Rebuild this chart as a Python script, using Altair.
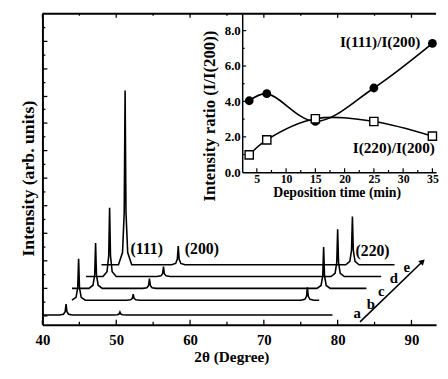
import altair as alt
import pandas as pd

# ---------------- main XRD patterns ----------------
curve_names = ["a", "b", "c", "d", "e"]
curve_start = [40.0, 44.0, 44.0, 45.9, 48.0]
curve_end = [79.3, 77.5, 83.9, 85.9, 87.7]
curve_base = [10, 25, 37, 49, 61]
peak_pos = [[43.2, 50.5], [44.9, 52.3, 75.9], [47.2, 54.5, 78.1],
            [49.1, 56.4, 80.0], [51.2, 58.4, 82.0]]
peak_top = [[21, 13], [67, 31, 38], [83, 47, 79], [119, 59, 97], [238, 80, 110]]
# peak outline: offset (deg) and fraction of peak height
profile_dx = [-0.9, -0.35, -0.12, 0.0, 0.12, 0.35, 0.9]
profile_f = [0.0, 0.07, 0.3, 1.0, 0.3, 0.07, 0.0]

rows = []
for k, name in enumerate(curve_names):
    pts = [(curve_start[k], curve_base[k]), (curve_end[k], curve_base[k])]
    for p, top in zip(peak_pos[k], peak_top[k]):
        for dx, f in zip(profile_dx, profile_f):
            x = p + dx
            if curve_start[k] <= x <= curve_end[k]:
                pts.append((x, curve_base[k] + f * (top - curve_base[k])))
    pts.sort()
    for i, (x, y) in enumerate(pts):
        rows.append({"curve": name, "i": i, "x": x, "y": y})
xrd = pd.DataFrame(rows)

x_major = [40, 50, 60, 70, 80, 90]
x_minor = [45, 55, 65, 75, 85]
y_major = [9, 37, 65, 93, 121, 149, 177, 205, 232, 260, 288]
y_minor = [23, 51, 79, 107, 135, 163, 191, 219, 246, 274, 302]

peak_labels = ["(111)", "(200)", "(220)"]
peak_label_x = [54.13, 61.6, 84.73]
peak_label_y = [77, 77, 75.3]
series_label_x = [82.63, 84.49, 85.91, 87.6, 89.37]
series_label_y = [12, 21, 34.3, 47.7, 58.7]
arrow_x = [83.03, 91.51]
arrow_y = [3, 64.3]

# ---------------- inset ----------------
dep_time = [3.7, 6.7, 15, 25, 35]
ratio_111 = [4.04, 4.44, 2.87, 4.76, 7.28]
ratio_220 = [0.98, 1.83, 3.02, 2.87, 2.04]
inset_x_ticks = [5, 10, 15, 20, 25, 30, 35]
inset_x_minor = [7.5, 12.5, 17.5, 22.5, 27.5, 32.5]
inset_y_ticks = [0, 2, 4, 6, 8]
inset_y_minor = [1, 3, 5, 7]
inset_labels = ["I(111)/I(200)", "I(220)/I(200)"]
inset_label_x = [26.07, 28.4]
inset_label_y = [7.33, 1.39]

FONT = "Liberation Serif"
W, H = 400, 316
XDOM = [40, 40 + W / 7.5]
YDOM = [0, 316]
IX_LEFT = 203
IX_DOM = [2.5, 2.5 + (W - IX_LEFT) / 5.947]


def xs():
    return alt.Scale(domain=XDOM, nice=False, zero=False)


def ys():
    return alt.Scale(domain=YDOM, nice=False, zero=False)


def ixs():
    return alt.Scale(domain=IX_DOM, range=[IX_LEFT, W], nice=False, zero=False)


def iys():
    return alt.Scale(domain=[0, 8.95], range=[161, 0], nice=False, zero=False)


curves = alt.Chart(xrd).mark_line(color="black", strokeWidth=1.6).encode(
    x=alt.X("x:Q", scale=xs(), axis=alt.Axis(
        orient="bottom", values=x_major, ticks=False, grid=False, labelFlush=False,
        labelPadding=8, labelFontSize=15, labelFont=FONT, labelFontWeight="bold",
        labelColor="black", domainColor="black", domainWidth=2,
        title="2θ (Degree)", titleFont=FONT, titleFontSize=15.5, titleFontWeight="bold",
        titleColor="black", titlePadding=2, titleX=192)),
    y=alt.Y("y:Q", scale=ys(), axis=alt.Axis(
        orient="left", labels=False, ticks=False, grid=False, domainColor="black",
        domainWidth=2, title="Intensity (arb. units)", titleFont=FONT, titleFontSize=18,
        titleFontWeight="bold", titleColor="black", titlePadding=5, titleY=167)),
    detail="curve:N",
    order="i:Q",
)

tk = pd.DataFrame(
    [{"x": v, "y": 0, "y2": 5} for v in x_major]
    + [{"x": v, "y": 0, "y2": 3} for v in x_minor]
    + [{"x": v, "y": 316, "y2": 312} for v in x_major]
    + [{"x": v, "y": 316, "y2": 314} for v in x_minor]
)
xticks = alt.Chart(tk).mark_rule(color="black", strokeWidth=1.3).encode(
    x=alt.X("x:Q", scale=xs(), axis=None), y=alt.Y("y:Q", scale=ys(), axis=None), y2="y2:Q")

tky = pd.DataFrame(
    [{"y": v, "x": 40, "x2": 40.67} for v in y_major]
    + [{"y": v, "x": 40, "x2": 40.4} for v in y_minor]
)
yticks = alt.Chart(tky).mark_rule(color="black", strokeWidth=1.3).encode(
    x=alt.X("x:Q", scale=xs(), axis=None), x2="x2:Q", y=alt.Y("y:Q", scale=ys(), axis=None))

topb = alt.Chart(pd.DataFrame({"x": [XDOM[0]], "x2": [XDOM[1]], "y": [YDOM[1]]})).mark_rule(
    color="black", strokeWidth=2).encode(
    x=alt.X("x:Q", scale=xs(), axis=None), x2="x2:Q", y=alt.Y("y:Q", scale=ys(), axis=None))

plab = alt.Chart(pd.DataFrame({"t": peak_labels, "x": peak_label_x, "y": peak_label_y})).mark_text(
    font=FONT, fontSize=16, fontWeight="bold", color="black").encode(
    x=alt.X("x:Q", scale=xs(), axis=None), y=alt.Y("y:Q", scale=ys(), axis=None), text="t:N")

slab = alt.Chart(pd.DataFrame({"t": curve_names, "x": series_label_x, "y": series_label_y})).mark_text(
    font=FONT, fontSize=15, fontWeight="bold", color="black").encode(
    x=alt.X("x:Q", scale=xs(), axis=None), y=alt.Y("y:Q", scale=ys(), axis=None), text="t:N")

arr = alt.Chart(pd.DataFrame({"x": [arrow_x[0]], "x2": [arrow_x[1]], "y": [arrow_y[0]], "y2": [arrow_y[1]]})).mark_rule(
    color="black", strokeWidth=1.6).encode(
    x=alt.X("x:Q", scale=xs(), axis=None), x2="x2:Q", y=alt.Y("y:Q", scale=ys(), axis=None), y2="y2:Q")
head = alt.Chart(pd.DataFrame({"x": [arrow_x[1]], "y": [arrow_y[1]]})).mark_point(
    shape="triangle-up", filled=True, color="black", size=45, angle=46, opacity=1).encode(
    x=alt.X("x:Q", scale=xs(), axis=None), y=alt.Y("y:Q", scale=ys(), axis=None))

idf = pd.DataFrame({"t": dep_time, "r111": ratio_111, "r220": ratio_220})

l111 = alt.Chart(idf).mark_line(color="black", strokeWidth=1.6, interpolate="catmull-rom").encode(
    x=alt.X("t:Q", scale=ixs(), axis=alt.Axis(
        orient="bottom", offset=-155, values=inset_x_ticks, ticks=False, grid=False,
        labelFlush=False, labelPadding=1, labelFontSize=12, labelFont=FONT,
        labelFontWeight="bold", labelColor="black", domainColor="black", domainWidth=1.5,
        title="Deposition time (min)", titleFont=FONT, titleFontSize=14,
        titleFontWeight="bold", titleColor="black", titlePadding=2, titleX=299)),
    y=alt.Y("r111:Q", scale=iys(), axis=alt.Axis(
        orient="left", offset=-IX_LEFT, values=inset_y_ticks, format=".1f", ticks=False,
        grid=False, labelPadding=2, labelFontSize=13, labelFont=FONT,
        labelFontWeight="bold", labelColor="black", domainColor="black", domainWidth=1.5,
        title="Intensity ratio (I/I(200))", titleFont=FONT, titleFontSize=17,
        titleFontWeight="bold", titleColor="black", titlePadding=6, titleY=103.5)),
)
l220 = alt.Chart(idf).mark_line(color="black", strokeWidth=1.6, interpolate="catmull-rom").encode(
    x=alt.X("t:Q", scale=ixs(), axis=None), y=alt.Y("r220:Q", scale=iys(), axis=None))
p111 = alt.Chart(idf).mark_point(shape="circle", filled=True, color="black", size=80, opacity=1).encode(
    x=alt.X("t:Q", scale=ixs(), axis=None), y=alt.Y("r111:Q", scale=iys(), axis=None))
p220 = alt.Chart(idf).mark_point(shape="square", filled=True, fill="white", stroke="black",
                                 strokeWidth=1.4, size=70, opacity=1).encode(
    x=alt.X("t:Q", scale=ixs(), axis=None), y=alt.Y("r220:Q", scale=iys(), axis=None))

itk = pd.DataFrame(
    [{"x": v, "y": 0, "y2": 0.22} for v in inset_x_ticks]
    + [{"x": v, "y": 0, "y2": 0.13} for v in inset_x_minor]
)
ixt = alt.Chart(itk).mark_rule(color="black", strokeWidth=1.2).encode(
    x=alt.X("x:Q", scale=ixs(), axis=None), y=alt.Y("y:Q", scale=iys(), axis=None), y2="y2:Q")
ity = pd.DataFrame(
    [{"y": v, "x": IX_DOM[0], "x2": IX_DOM[0] + 0.67} for v in inset_y_ticks[1:]]
    + [{"y": v, "x": IX_DOM[0], "x2": IX_DOM[0] + 0.42} for v in inset_y_minor]
)
iyt = alt.Chart(ity).mark_rule(color="black", strokeWidth=1.2).encode(
    x=alt.X("x:Q", scale=ixs(), axis=None), x2="x2:Q", y=alt.Y("y:Q", scale=iys(), axis=None))

ilab = alt.Chart(pd.DataFrame({"t": inset_labels, "x": inset_label_x, "y": inset_label_y})).mark_text(
    font=FONT, fontSize=15.5, fontWeight="bold", color="black").encode(
    x=alt.X("x:Q", scale=ixs(), axis=None), y=alt.Y("y:Q", scale=iys(), axis=None), text="t:N")

chart = alt.layer(
    curves, xticks, yticks, topb, plab, slab, arr, head,
    l111, l220, p111, p220, ixt, iyt, ilab,
).resolve_scale(x="independent", y="independent").properties(
    width=W, height=H,
    padding={"left": 12, "top": 2, "right": 0, "bottom": 0},
    background="white",
).configure_view(stroke=None)

chart.save("out.html", embed_options={"renderer": "svg", "actions": False})
